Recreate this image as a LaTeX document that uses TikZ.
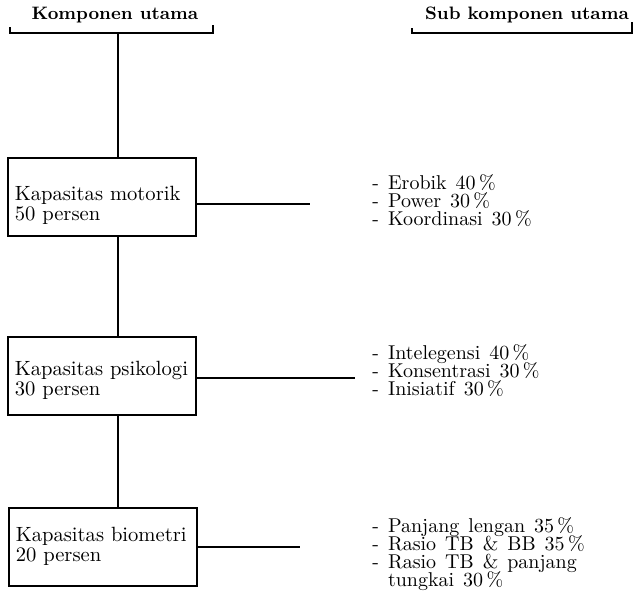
\documentclass[tikz,border=0pt]{standalone}
\usetikzlibrary{positioning}
\newcommand\rincianfont{\fontsize{10}{9}\selectfont\lineskiplimit=-4pt\relax
  \spaceskip=0.45em plus 0.1em\relax}
\tikzset{
  kotak/.style={draw, line width=0.8pt, anchor=north west, minimum height=39pt,
    inner xsep=3.5pt, text width=87pt, align=left, font=\fontsize{10.3}{10}\selectfont},
  rincian/.style={anchor=west, align=left, inner sep=0pt, font=\rincianfont},
  judul/.style={font=\bfseries\fontsize{9}{10}\selectfont, inner sep=0pt},
  garis/.style={line width=0.8pt}
}
\begin{document}
\begin{tikzpicture}[x=0.5pt, y=-0.5pt]
  \useasboundingbox (0,0) rectangle (637,605);
  % judul kolom
  \node[judul] (kj) at (115,15) {Komponen utama};
  \node[judul] (sj) at (527,15) {Sub komponen utama};
  \draw[garis] (10,27) |- (213,33) -- (213,25);
  \draw[garis] (412,28) |- (632,33) -- (632,22);
  \coordinate (kb) at (118,33);
  % komponen utama
  \node[kotak] (m1) at (7,157) {\rule{0pt}{16pt}Kapasitas motorik\\50 persen};
  \node[kotak] (m2) at (7,336) {\rule{0pt}{12pt}Kapasitas psikologi\\30 persen};
  \node[kotak] (m3) at (8,507) {Kapasitas biometri\\20 persen};
  \draw[garis] (kb) -- (kb |- m1.north);
  \draw[garis] (m1.south -| kb) -- (m2.north -| kb);
  \draw[garis] (m2.south -| kb) -- (m3.north -| kb);
  % sub komponen
  \node[rincian] (r1) at (372,201) {- Erobik 40\,\%\\- Power 30\,\%\\- Koordinasi 30\,\%};
  \node[rincian] (r2) at (372,371) {- Intelegensi 40\,\%\\- Konsentrasi 30\,\%\\- Inisiatif 30\,\%};
  \node[rincian] (r3) at (372,554) {- Panjang lengan 35\,\%\\- Rasio TB \& BB 35\,\%\\- Rasio TB \& panjang\\\phantom{- }tungkai 30\,\%};
  \coordinate (u1) at (310,0);
  \coordinate (u2) at (355,0);
  \coordinate (u3) at (300,0);
  \draw[garis] ([yshift=-3.5pt]m1.east) -- ([yshift=-3.5pt]m1.east -| u1);
  \draw[garis] ([yshift=-1pt]m2.east) -- ([yshift=-1pt]m2.east -| u2);
  \draw[garis] (m3.east) -- (m3.east -| u3);
\end{tikzpicture}
\end{document}
